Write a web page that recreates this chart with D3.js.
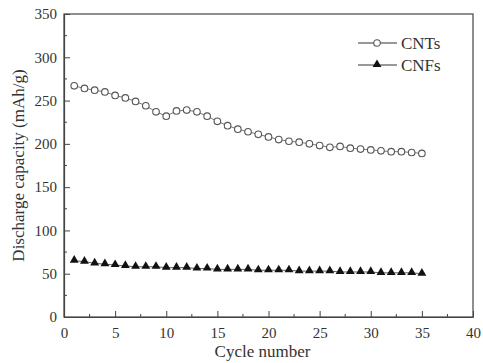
<!DOCTYPE html>
<html>
<head>
<meta charset="utf-8">
<script src="https://cdn.jsdelivr.net/npm/d3@7"></script>
<style>
  body { margin: 0; background: #fff; }
  text { font-family: "Liberation Serif", "Times New Roman", serif; fill: #333; }
</style>
</head>
<body>
<div id="chart"></div>
<script>
// cycle numbers and the two series
var cycles = d3.range(1, 36);
var cntValues = [267, 264, 262, 260, 256, 253, 249, 244, 237, 232,
                 238, 239, 237, 232, 226, 221, 217, 214, 211, 208,
                 205, 203, 202, 200, 198, 196, 197, 195, 194, 193,
                 192, 191, 191, 190, 189];
var cnfValues = [65, 64, 62, 61, 60, 59, 58, 58, 58, 57,
                 57, 57, 56, 56, 55, 55, 55, 55, 54, 54,
                 54, 54, 53, 53, 53, 53, 52, 52, 52, 52,
                 51, 51, 51, 51, 50];
var xTicks = [0, 5, 10, 15, 20, 25, 30, 35, 40];
var yTicks = [0, 50, 100, 150, 200, 250, 300, 350];
var seriesNames = ["CNTs", "CNFs"];

var width = 483, height = 363;
var margin = { top: 14, right: 10, bottom: 46, left: 64 };

var svg = d3.select("#chart").append("svg")
    .attr("width", width)
    .attr("height", height);

var x = d3.scaleLinear().domain([0, 40]).range([margin.left, width - margin.right]);
var y = d3.scaleLinear().domain([0, 350]).range([height - margin.bottom, margin.top]);

var axisColor = "#444";

// frame
svg.append("rect")
    .attr("x", x(0)).attr("y", y(350))
    .attr("width", x(40) - x(0)).attr("height", y(0) - y(350))
    .attr("fill", "none").attr("stroke", axisColor).attr("stroke-width", 1.2);

// minor ticks
var xMinor = d3.range(2.5, 40, 5);
var yMinor = d3.range(25, 350, 50);
svg.append("g").selectAll("line").data(xMinor).enter().append("line")
    .attr("x1", function (d) { return x(d); }).attr("x2", function (d) { return x(d); })
    .attr("y1", y(0)).attr("y2", y(0) - 3)
    .attr("stroke", axisColor);
svg.append("g").selectAll("line").data(yMinor).enter().append("line")
    .attr("x1", x(0)).attr("x2", x(0) + 3)
    .attr("y1", function (d) { return y(d); }).attr("y2", function (d) { return y(d); })
    .attr("stroke", axisColor);

// axes (ticks inward)
var xAxis = svg.append("g")
    .attr("transform", "translate(0," + y(0) + ")")
    .call(d3.axisBottom(x).tickValues(xTicks).tickSizeInner(-6).tickSizeOuter(0).tickPadding(10));
var yAxis = svg.append("g")
    .attr("transform", "translate(" + x(0) + ",0)")
    .call(d3.axisLeft(y).tickValues(yTicks).tickSizeInner(-6).tickSizeOuter(0).tickPadding(7));

[xAxis, yAxis].forEach(function (ax) {
    ax.select(".domain").attr("stroke", axisColor).attr("stroke-width", 1.2);
    ax.selectAll(".tick line").attr("stroke", axisColor);
    ax.selectAll(".tick text")
        .style("font-family", "'Liberation Serif', serif")
        .style("font-size", "15px")
        .attr("fill", "#333");
});

// axis titles
svg.append("text")
    .attr("x", (x(0) + x(40)) / 2 - 6).attr("y", 357)
    .attr("text-anchor", "middle")
    .style("font-size", "17px")
    .text("Cycle number");
svg.append("text")
    .attr("transform", "translate(24," + ((y(0) + y(350)) / 2) + ") rotate(-90)")
    .attr("text-anchor", "middle")
    .style("font-size", "17px")
    .text("Discharge capacity (mAh/g)");

var line = d3.line()
    .x(function (d) { return x(d[0]); })
    .y(function (d) { return y(d[1]); });

var cntData = cycles.map(function (c, i) { return [c, cntValues[i]]; });
var cnfData = cycles.map(function (c, i) { return [c, cnfValues[i]]; });

var tri = d3.symbol().type(d3.symbolTriangle).size(34);

// CNTs
svg.append("path").datum(cntData)
    .attr("d", line).attr("fill", "none").attr("stroke", "#555").attr("stroke-width", 0.8);
svg.append("g").selectAll("circle").data(cntData).enter().append("circle")
    .attr("cx", function (d) { return x(d[0]); })
    .attr("cy", function (d) { return y(d[1]); })
    .attr("r", 3.3)
    .attr("fill", "#fff").attr("stroke", "#555").attr("stroke-width", 1.1);

// CNFs
svg.append("path").datum(cnfData)
    .attr("d", line).attr("fill", "none").attr("stroke", "#333").attr("stroke-width", 0.8);
svg.append("g").selectAll("path").data(cnfData).enter().append("path")
    .attr("d", tri)
    .attr("transform", function (d) { return "translate(" + x(d[0]) + "," + (y(d[1]) - 0.5) + ")"; })
    .attr("fill", "#111");

// legend
var legend = svg.append("g");
var legY = [43, 65];
seriesNames.forEach(function (name, i) {
    var g = legend.append("g").attr("transform", "translate(0," + legY[i] + ")");
    g.append("line").attr("x1", 358).attr("x2", 397).attr("y1", 0).attr("y2", 0)
        .attr("stroke", "#333").attr("stroke-width", 1);
    if (i === 0) {
        g.append("circle").attr("cx", 377).attr("cy", 0).attr("r", 3.3)
            .attr("fill", "#fff").attr("stroke", "#555").attr("stroke-width", 1.1);
    } else {
        g.append("path").attr("d", tri).attr("transform", "translate(377,-0.5)").attr("fill", "#111");
    }
    g.append("text").attr("x", 401).attr("y", 6)
        .style("font-size", "17px")
        .text(name);
});
</script>
</body>
</html>
